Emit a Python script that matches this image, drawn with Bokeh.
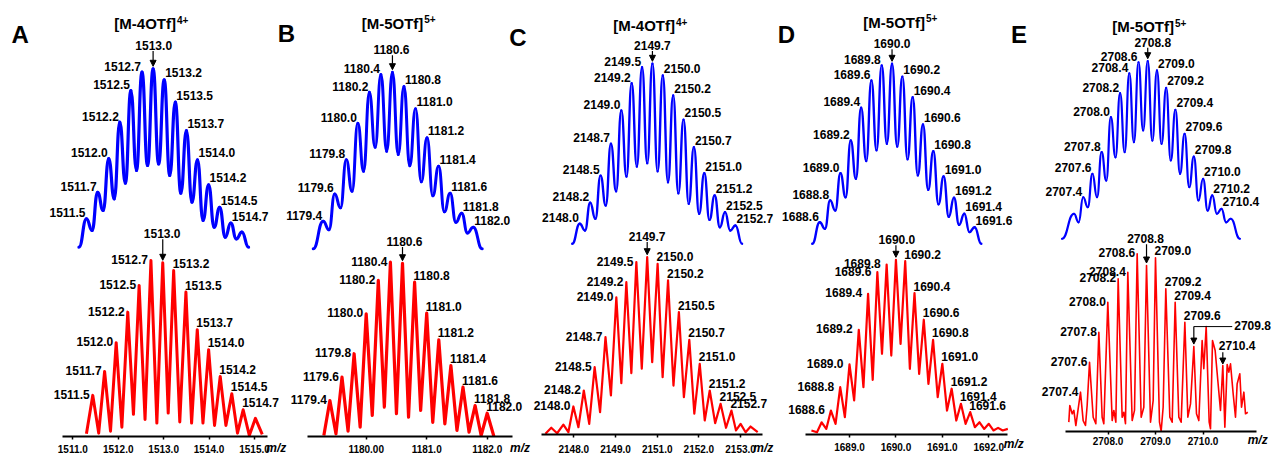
import numpy as np
from bokeh.plotting import figure
from bokeh.models import Range1d, LinearAxis, FixedTicker, Arrow, NormalHead
from bokeh.embed import file_html
from bokeh.resources import INLINE
from bokeh.core.properties import value

# ============================ DATA ============================
# ---- Panel A : [M-4OTf]4+ ----
A_letter = "A"
A_title, A_charge = "[M-4OTf]", "4+"
A_labels = ["1511.5", "1511.7", "1512.0", "1512.2", "1512.5", "1512.7", "1513.0",
            "1513.2", "1513.5", "1513.7", "1514.0", "1514.2", "1514.5", "1514.7"]
A_sim_mz = [1511.33, 1511.5, 1511.625, 1511.75, 1511.875, 1512.0, 1512.125, 1512.25, 1512.375,
            1512.5, 1512.625, 1512.75, 1512.875, 1513.0, 1513.125, 1513.25, 1513.375, 1513.5,
            1513.625, 1513.75, 1513.875, 1514.0, 1514.125, 1514.25, 1514.375, 1514.5, 1514.625,
            1514.75, 1514.875, 1515.0, 1515.15]
A_sim_int = [0, 15.9, 9.4, 30.8, 20.6, 49.6, 27.1, 70.1, 35.9, 87.8, 43.0, 98.1, 45.8, 100,
             46.7, 93.8, 40.2, 81.3, 30.3, 65.4, 25.2, 49.0, 15.0, 35.0, 11.2, 22.4, 5.6, 13.5,
             4.7, 8.4, 0]
A_sim_peaks = [1511.5, 1511.75, 1512.0, 1512.25, 1512.5, 1512.75, 1513.0, 1513.25, 1513.5,
               1513.75, 1514.0, 1514.25, 1514.5, 1514.75]
A_sim_apex = 1513.0
A_exp_mz = [1511.30, 1511.44, 1511.57, 1511.70, 1511.83, 1511.955, 1512.08, 1512.21, 1512.335,
            1512.46, 1512.59, 1512.72, 1512.85, 1512.98, 1513.10, 1513.22, 1513.355, 1513.49,
            1513.615, 1513.74, 1513.865, 1513.99, 1514.12, 1514.245, 1514.37, 1514.50, 1514.625,
            1514.75, 1514.885, 1515.02, 1515.17]
A_exp_int = [1.4, 23.2, 1.7, 36.8, 2.8, 53.2, 5.1, 70.6, 12.4, 85.8, 9.5, 100, 7.4, 98.7, 13.1,
             94.3, 8.0, 82.0, 7.4, 60.6, 7.4, 49.2, 6.1, 34.0, 6.1, 24.1, 1.7, 15.0, 0.4, 10.1, 1.0]
A_exp_peaks = [1511.44, 1511.70, 1511.955, 1512.21, 1512.46, 1512.72, 1512.98, 1513.22, 1513.49,
               1513.74, 1513.99, 1514.245, 1514.50, 1514.75]
A_exp_apex = 1512.98
A_ticks = [1511, 1512, 1513, 1514, 1515]
A_tick_labels = ["1511.0", "1512.0", "1513.0", "1514.0", "1515.0"]

# ---- Panel B : [M-5OTf]5+ ----
B_letter = "B"
B_title, B_charge = "[M-5OTf]", "5+"
B_labels = ["1179.4", "1179.6", "1179.8", "1180.0", "1180.2", "1180.4", "1180.6",
            "1180.8", "1181.0", "1181.2", "1181.4", "1181.6", "1181.8", "1182.0"]
B_sim_mz = [1179.227, 1179.4, 1179.5, 1179.6, 1179.7, 1179.8, 1179.9, 1180.0, 1180.1, 1180.2,
            1180.3, 1180.4, 1180.5, 1180.6, 1180.7, 1180.8, 1180.9, 1181.0, 1181.1, 1181.2,
            1181.3, 1181.4, 1181.5, 1181.6, 1181.7, 1181.8, 1181.9, 1182.0, 1182.156]
B_sim_int = [0, 15.6, 10.8, 31.1, 23.2, 50.4, 32.6, 71.1, 43.9, 88.7, 57.5, 98.7, 55.3, 100,
             53.4, 91.9, 47.0, 79.3, 38.0, 62.9, 30.0, 46.8, 21.0, 31.5, 15.0, 20.2, 9.0, 12.2, 0]
B_sim_peaks = [1179.4, 1179.6, 1179.8, 1180.0, 1180.2, 1180.4, 1180.6, 1180.8, 1181.0, 1181.2,
               1181.4, 1181.6, 1181.8, 1182.0]
B_sim_apex = 1180.6
B_exp_mz = [1179.30, 1179.4, 1179.5, 1179.6, 1179.7, 1179.8, 1179.9, 1180.0, 1180.1, 1180.2,
            1180.3, 1180.4, 1180.5, 1180.6, 1180.7, 1180.8, 1180.9, 1181.0, 1181.1, 1181.2,
            1181.3, 1181.4, 1181.5, 1181.6, 1181.7, 1181.8, 1181.9, 1182.0, 1182.11]
B_exp_int = [0.4, 20.5, 1.4, 33.9, 2.9, 47.4, 5.2, 70.3, 11.9, 89.5, 16.7, 100, 12.9, 99.4, 10.9,
             88.5, 14.8, 70.7, 8.0, 55.4, 7.1, 40.6, 3.3, 28.2, 2.3, 17.6, 0.4, 13.2, 0]
B_exp_peaks = B_sim_peaks
B_exp_apex = 1180.6
B_ticks = [1180, 1181, 1182]
B_tick_labels = ["1180.00", "1181.0", "1182.0"]

# ---- Panel C : [M-4OTf]4+ ----
C_letter = "C"
C_title, C_charge = "[M-4OTf]", "4+"
C_labels = ["2148.0", "2148.2", "2148.5", "2148.7", "2149.0", "2149.2", "2149.5", "2149.7",
            "2150.0", "2150.2", "2150.5", "2150.7", "2151.0", "2151.2", "2152.5", "2152.7"]
C_sim_mz = [2147.817, 2148.0, 2148.125, 2148.25, 2148.375, 2148.5, 2148.625, 2148.75, 2148.875,
            2149.0, 2149.125, 2149.25, 2149.375, 2149.5, 2149.625, 2149.75, 2149.875, 2150.0,
            2150.125, 2150.25, 2150.375, 2150.5, 2150.625, 2150.75, 2150.875, 2151.0, 2151.125,
            2151.25, 2151.375, 2151.5, 2151.625, 2151.75, 2151.91]
C_sim_int = [0, 11.1, 7.4, 22.8, 13.9, 37.9, 21.3, 55.6, 29.2, 74.1, 37.4, 89.2, 42.9, 98.1,
             44.8, 100, 40.3, 93.5, 34.2, 82.4, 28.1, 68.9, 22.2, 53.7, 16.7, 39.2, 13.3, 26.8,
             9.2, 17.6, 7.4, 10.2, 0]
C_sim_peaks = [2148.0, 2148.25, 2148.5, 2148.75, 2149.0, 2149.25, 2149.5, 2149.75, 2150.0,
               2150.25, 2150.5, 2150.75, 2151.0, 2151.25, 2151.5, 2151.75]
C_sim_apex = 2149.75
C_exp_mz = [2147.32, 2147.46, 2147.60, 2147.75, 2147.87, 2147.99, 2148.11, 2148.24, 2148.37,
            2148.50, 2148.63, 2148.76, 2148.89, 2149.02, 2149.14, 2149.26, 2149.38, 2149.50,
            2149.63, 2149.76, 2149.88, 2150.01, 2150.13, 2150.26, 2150.39, 2150.52, 2150.64,
            2150.77, 2150.89, 2151.02, 2151.14, 2151.26, 2151.39, 2151.52, 2151.65, 2151.78,
            2151.89, 2152.00, 2152.12, 2152.24, 2152.41]
C_exp_int = [0.4, 3.8, 0.7, 5.6, 1.3, 15.8, 4.1, 24.8, 6.0, 38.0, 12.6, 54.9, 22.0, 77.4, 28.9,
             85.9, 34.6, 97.2, 37.1, 100, 40.8, 96.3, 32.3, 86.9, 27.6, 69.0, 21.0, 53.4, 11.7,
             39.9, 7.9, 24.8, 6.4, 17.3, 3.8, 13.5, 2.3, 6.0, 1.3, 4.5, 1.3]
C_exp_peaks = [2147.99, 2148.24, 2148.50, 2148.76, 2149.02, 2149.26, 2149.50, 2149.76, 2150.01,
               2150.26, 2150.52, 2150.77, 2151.02, 2151.26, 2151.52, 2151.78]
C_exp_apex = 2149.76
C_ticks = [2148, 2149, 2150, 2151, 2152]
C_tick_labels = ["2148.0", "2149.0", "2151.0", "2152.0", "2153.0"]

# ---- Panel D : [M-5OTf]5+ ----
D_letter = "D"
D_title, D_charge = "[M-5OTf]", "5+"
D_labels = ["1688.6", "1688.8", "1689.0", "1689.2", "1689.4", "1689.6", "1689.8", "1690.0",
            "1690.2", "1690.4", "1690.6", "1690.8", "1691.0", "1691.2", "1691.4", "1691.6"]
D_sim_mz = [1688.453, 1688.6, 1688.7, 1688.8, 1688.9, 1689.0, 1689.1, 1689.2, 1689.3, 1689.4,
            1689.5, 1689.6, 1689.7, 1689.8, 1689.9, 1690.0, 1690.1, 1690.2, 1690.3, 1690.4,
            1690.5, 1690.6, 1690.7, 1690.8, 1690.9, 1691.0, 1691.1, 1691.2, 1691.3, 1691.4,
            1691.5, 1691.6, 1691.73]
D_sim_int = [0, 12.0, 8.3, 24.1, 18.5, 39.2, 25.9, 57.4, 36.1, 75.6, 46.0, 90.7, 52.0, 99.1,
             55.6, 100, 54.0, 92.9, 47.0, 81.4, 38.0, 66.3, 30.0, 51.4, 22.0, 37.4, 15.0, 25.6,
             10.5, 16.7, 6.5, 9.2, 0]
D_sim_peaks = [1688.6, 1688.8, 1689.0, 1689.2, 1689.4, 1689.6, 1689.8, 1690.0, 1690.2, 1690.4,
               1690.6, 1690.8, 1691.0, 1691.2, 1691.4, 1691.6]
D_sim_apex = 1690.0
D_exp_mz = [1688.18, 1688.3, 1688.4, 1688.5, 1688.6, 1688.7, 1688.8, 1688.9, 1689.0, 1689.1,
            1689.2, 1689.3, 1689.4, 1689.5, 1689.6, 1689.7, 1689.8, 1689.9, 1690.0, 1690.1,
            1690.2, 1690.3, 1690.4, 1690.5, 1690.6, 1690.7, 1690.8, 1690.9, 1691.0, 1691.1,
            1691.2, 1691.3, 1691.4, 1691.5, 1691.6, 1691.7, 1691.8, 1691.9, 1692.0, 1692.1,
            1692.2, 1692.3, 1692.41]
D_exp_int = [2.3, 1.3, 7.0, 3.2, 13.7, 6.1, 27.1, 9.9, 40.1, 19.5, 59.9, 27.1, 80.5, 31.3, 92.9,
             46.2, 97.3, 45.2, 100, 51.9, 99.2, 37.6, 80.9, 34.7, 65.7, 29.0, 54.2, 21.4, 40.5,
             13.7, 26.2, 8.0, 17.6, 6.1, 12.8, 4.2, 7.0, 3.2, 6.1, 2.3, 3.8, 2.3, 3.2]
D_exp_peaks = D_sim_peaks
D_exp_apex = 1690.0
D_ticks = [1689, 1690, 1691, 1692]
D_tick_labels = ["1689.0", "1690.0", "1691.0", "1692.0"]

# ---- Panel E : [M-5OTf]5+ ----
E_letter = "E"
E_title, E_charge = "[M-5OTf]", "5+"
E_labels = ["2707.4", "2707.6", "2707.8", "2708.0", "2708.2", "2708.4", "2708.6", "2708.8",
            "2709.0", "2709.2", "2709.4", "2709.6", "2709.8", "2710.0", "2710.2", "2710.4"]
E_sim_mz = [2706.94, 2707.2, 2707.3, 2707.4, 2707.5, 2707.6, 2707.7, 2707.8, 2707.9, 2708.0,
            2708.1, 2708.2, 2708.3, 2708.4, 2708.5, 2708.6, 2708.7, 2708.8, 2708.9, 2709.0,
            2709.1, 2709.2, 2709.3, 2709.4, 2709.5, 2709.6, 2709.7, 2709.8, 2709.9, 2710.0,
            2710.1, 2710.2, 2710.3, 2710.4, 2710.5, 2710.6, 2710.8]
E_sim_int = [0, 14.1, 9.3, 23.4, 17.8, 36.6, 23.4, 48.8, 32.8, 68.5, 45.9, 82.0, 48.8, 93.2,
             54.4, 99.4, 61.0, 100, 55.3, 94.8, 53.5, 85.0, 44.1, 72.6, 36.6, 59.1, 29.1, 46.3,
             21.6, 33.8, 15.9, 24.4, 14.1, 16.9, 9.3, 11.3, 0]
E_sim_peaks = [2707.4, 2707.6, 2707.8, 2708.0, 2708.2, 2708.4, 2708.6, 2708.8, 2709.0, 2709.2,
               2709.4, 2709.6, 2709.8, 2710.0, 2710.2, 2710.4]
E_sim_apex = 2708.8
E_exp_mz = [2707.175, 2707.196, 2707.246, 2707.281, 2707.323, 2707.421, 2707.477, 2707.526,
            2707.561, 2707.611, 2707.688, 2707.744, 2707.807, 2707.877, 2707.912, 2707.996,
            2708.088, 2708.123, 2708.165, 2708.214, 2708.298, 2708.333, 2708.368, 2708.417,
            2708.509, 2708.558, 2708.614, 2708.698, 2708.754, 2708.811, 2708.895, 2708.951,
            2709.0, 2709.084, 2709.119, 2709.161, 2709.217, 2709.302, 2709.351, 2709.414,
            2709.491, 2709.54, 2709.618, 2709.681, 2709.737, 2709.807, 2709.863, 2709.912,
            2709.982, 2710.017, 2710.067, 2710.13, 2710.158, 2710.2, 2710.256, 2710.312,
            2710.368, 2710.417, 2710.46, 2710.509, 2710.544, 2710.579, 2710.635, 2710.684,
            2710.719, 2710.775, 2710.811, 2710.86, 2710.895, 2710.944]
E_exp_int = [5.1, 14.5, 9.8, 11.7, 3.2, 22.0, 6.0, 3.2, 14.5, 38.9, 7.9, 4.2, 55.8, 7.9, 4.2,
             72.7, 6.0, 11.7, 5.1, 85.9, 7.9, 10.7, 4.2, 89.6, 6.0, 11.7, 100, 7.9, 13.5, 93.4,
             5.1, 17.3, 97.7, 5.1, 0, 13.5, 80.3, 7.9, 5.1, 72.7, 7.9, 5.1, 61.4, 7.9, 15.4,
             47.7, 9.8, 6.0, 51.1, 35.2, 59.0, 5.1, 1.4, 51.1, 45.5, 28.6, 11.7, 37.0, 2.3, 37.6,
             33.3, 38.0, 21.1, 7.9, 26.7, 32.4, 13.5, 22.0, 9.8, 10.7]
E_exp_peaks = [2707.421, 2707.611, 2707.807, 2707.996, 2708.214, 2708.417, 2708.614, 2708.811,
               2709.0, 2709.217, 2709.414, 2709.618]
E_exp_labels = ["2707.4", "2707.6", "2707.8", "2708.0", "2708.2", "2708.4", "2708.6", "2708.8",
                "2709.0", "2709.2", "2709.4", "2709.6"]
E_exp_apex = 2708.811
E_callout_peaks = [2709.807, 2710.417]
E_callout_labels = ["2709.8", "2710.4"]
E_ticks = [2708, 2709, 2710]
E_tick_labels = ["2708.0", "2709.0", "2710.0"]

# ============================ LAYOUT ============================
# Bokeh's standalone page has no body margin, so canvas pixels == window pixels.
W, H = 1272, 455
OX, OY = 0, 0
FONT = "Liberation Sans"
BLUE, RED, INK = "#0000ff", "#ff0000", "#000000"
LABEL_SIZE = "12px"
OFF = dict(sim_left=(-1, -6), sim_right=(1, -7), exp_left=(-3, -1), exp_right=(-1, -7))

PANELS = [
    dict(key="A", letter=A_letter, title=A_title, charge=A_charge,
         sim=(A_sim_mz, A_sim_int, A_sim_peaks, A_labels, A_sim_apex),
         exp=(A_exp_mz, A_exp_int, A_exp_peaks, A_labels, A_exp_apex),
         ticks=(A_ticks, A_tick_labels),
         sim_x=(1511.5, 86.0, 44.4), sim_y=(246.7, 68.3),
         exp_x=(1511.0, 72.3, 45.43), exp_y=(435.6, 260.0),
         bounds=(1510.77, 1515.28), letter_xy=(19.7, 34.0), title_xy=(175.5, 23.0),
         sim_c=(0.6, -23.3), exp_c=(-0.6, -29.0), mz_off=(-1, 12), standoff=6,
         exp_left=(-3, -1), sim_lw=3.2, exp_lw=3.0),
    dict(key="B", letter=B_letter, title=B_title, charge=B_charge,
         sim=(B_sim_mz, B_sim_int, B_sim_peaks, B_labels, B_sim_apex),
         exp=(B_exp_mz, B_exp_int, B_exp_peaks, B_labels, B_exp_apex),
         ticks=(B_ticks, B_tick_labels),
         sim_x=(1179.4, 322.7, 57.7), sim_y=(248.3, 71.7),
         exp_x=(1180.0, 365.7, 60.5), exp_y=(435.7, 261.7),
         bounds=(1179.03, 1182.41), letter_xy=(285.8, 33.3), title_xy=(422.8, 22.5),
         sim_c=(-1, -22.4), exp_c=(2, -21.7), mz_off=(-2, 12), standoff=6,
         exp_left=(-3, -1), sim_lw=3.0, exp_lw=3.2),
    dict(key="C", letter=C_letter, title=C_title, charge=C_charge,
         sim=(C_sim_mz, C_sim_int, C_sim_peaks, C_labels, C_sim_apex),
         exp=(C_exp_mz, C_exp_int, C_exp_peaks, C_labels, C_exp_apex),
         ticks=(C_ticks, C_tick_labels),
         sim_x=(2148.0, 579.3, 41.5), sim_y=(243.3, 63.3),
         exp_x=(2148.0, 573.3, 41.7), exp_y=(434.0, 256.7),
         bounds=(2147.22, 2152.52), letter_xy=(517.5, 36.7), title_xy=(674.5, 25.0),
         sim_c=(0, -18.3), exp_c=(0, -20.7), mz_off=(-9, 13), standoff=7,
         exp_left=(-3, -1), sim_lw=2.4, exp_lw=2.2),
    dict(key="D", letter=D_letter, title=D_title, charge=D_charge,
         sim=(D_sim_mz, D_sim_int, D_sim_peaks, D_labels, D_sim_apex),
         exp=(D_exp_mz, D_exp_int, D_exp_peaks, D_labels, D_exp_apex),
         ticks=(D_ticks, D_tick_labels),
         sim_x=(1688.6, 819.3, 51.6), sim_y=(243.3, 63.3),
         exp_x=(1689.0, 849.0, 46.43), exp_y=(434.0, 259.3),
         bounds=(1688.05, 1692.41), letter_xy=(785.8, 34.3), title_xy=(924.5, 21.5),
         sim_c=(0, -20.0), exp_c=(1, -20.0), mz_off=(-4, 9), standoff=5,
         exp_left=(-6, -1), sim_lw=2.4, exp_lw=2.2),
    dict(key="E", letter=E_letter, title=E_title, charge=E_charge,
         sim=(E_sim_mz, E_sim_int, E_sim_peaks, E_labels, E_sim_apex),
         exp=(E_exp_mz, E_exp_int, E_exp_peaks, E_exp_labels, E_exp_apex),
         ticks=(E_ticks, E_tick_labels),
         sim_x=(2707.4, 1082.7, 46.1), sim_y=(238.3, 60.7),
         exp_x=(2708.0, 1107.5, 47.5), exp_y=(430.7, 253.3),
         bounds=(2707.105, 2711.13), letter_xy=(1018.5, 33.8), title_xy=(1173.5, 26.0),
         sim_c=(5, -19.0), exp_c=(-1, -26.7), mz_off=(-9, 9), standoff=3,
         exp_left=(-2, -1), sim_lw=2.2, exp_lw=1.6),
]

# ============================ FIGURE ============================
p = figure(width=W, height=H, output_backend="svg", toolbar_location=None,
           x_range=Range1d(OX, OX + W), y_range=Range1d(OY + H, OY),
           x_axis_location=None, y_axis_location=None, min_border=0)
p.outline_line_color = None
p.background_fill_color = "white"
p.border_fill_color = "white"
p.grid.visible = False


def x_rng(m_ref, px_ref, ppu):
    s = m_ref - (px_ref - OX) / ppu
    return Range1d(s, s + W / ppu)


def y_rng(px_base, px_top):
    k = (px_base - px_top) / 100.0
    s = -(OY + H - px_base) / k
    return Range1d(s, s + H / k)


def txt(**kw):
    base = dict(text_font=value(FONT), text_font_style="bold", text_color=INK,
                text_baseline="middle")
    base.update(kw)
    return base


def smooth_curve(xs, ys, rn, color, lw):
    xs = np.asarray(xs, float)
    ys = np.asarray(ys, float)
    x0, x1, y0, y1 = xs[:-1], xs[1:], ys[:-1], ys[1:]
    cx = (x0 + x1) / 2.0
    p.bezier(x0=x0, y0=y0, x1=x1, y1=y1, cx0=cx, cy0=y0, cx1=cx, cy1=y1,
             line_color=color, line_width=lw, line_cap="round",
             x_range_name=rn, y_range_name=rn)


def peak_labels(rn, series, kpx, left, right, center):
    mz, inten, peaks, labels, apex = series
    look = dict(zip(mz, inten))
    groups = {"right": ([], [], [], left), "left": ([], [], [], right),
              "center": ([], [], [], center)}
    for m, t in zip(peaks, labels):
        g = "right" if m < apex else ("left" if m > apex else "center")
        groups[g][0].append(m)
        groups[g][1].append(look[m])
        groups[g][2].append(t)
    for align, (xs, ys, ts, off) in groups.items():
        if xs:
            p.text(x=xs, y=ys, text=ts, x_range_name=rn, y_range_name=rn,
                   x_offset=off[0], y_offset=off[1],
                   **txt(text_align=align, text_font_size=LABEL_SIZE))
    ha = look[apex]
    p.add_layout(Arrow(end=NormalHead(size=6, fill_color=INK, line_color=INK, line_width=1),
                       x_start=apex, y_start=ha + (-center[1] - 5.5) / kpx,
                       x_end=apex, y_end=ha + 2.5 / kpx,
                       line_color=INK, line_width=1.2, x_range_name=rn, y_range_name=rn))


for P in PANELS:
    k = P["key"]
    rs, re = k + "_sim", k + "_exp"
    p.extra_x_ranges[rs] = x_rng(*P["sim_x"])
    p.extra_y_ranges[rs] = y_rng(*P["sim_y"])
    p.extra_x_ranges[re] = x_rng(*P["exp_x"])
    p.extra_y_ranges[re] = y_rng(*P["exp_y"])
    k_sim = (P["sim_y"][0] - P["sim_y"][1]) / 100.0
    k_exp = (P["exp_y"][0] - P["exp_y"][1]) / 100.0

    # simulated (blue) pattern
    smooth_curve(P["sim"][0], P["sim"][1], rs, BLUE, P["sim_lw"])
    # experimental (red) spectrum
    p.line(P["exp"][0], P["exp"][1], x_range_name=re, y_range_name=re,
           line_color=RED, line_width=P["exp_lw"], line_join="round")

    peak_labels(rs, P["sim"], k_sim, OFF["sim_left"], OFF["sim_right"], P["sim_c"])
    peak_labels(re, P["exp"], k_exp, P["exp_left"], OFF["exp_right"], P["exp_c"])

    # m/z axis
    ticks, tlabels = P["ticks"]
    ax = LinearAxis(x_range_name=re, y_range_name=re, fixed_location=0, bounds=P["bounds"],
                    ticker=FixedTicker(ticks=ticks),
                    major_label_overrides={t: s for t, s in zip(ticks, tlabels)})
    ax.axis_line_color = INK
    ax.axis_line_width = 2.2
    ax.major_tick_line_color = INK
    ax.major_tick_line_width = 1.5
    ax.major_tick_out = 3
    ax.major_tick_in = 0
    ax.minor_tick_line_color = None
    ax.major_label_text_font = FONT
    ax.major_label_text_font_style = "bold"
    ax.major_label_text_font_size = "10px"
    ax.major_label_text_color = INK
    ax.major_label_standoff = P["standoff"]
    p.add_layout(ax, "below")
    p.text(x=[P["bounds"][1]], y=[0], text=["m/z"], x_range_name=re, y_range_name=re,
           x_offset=P["mz_off"][0], y_offset=P["mz_off"][1],
           **txt(text_align="left", text_font_size="12px", text_font_style="bold italic"))

    # panel letter and title
    lx, ly = P["letter_xy"]
    p.text(x=[lx], y=[ly], text=[P["letter"]], **txt(text_align="center", text_font_size="24px"))
    tx, ty = P["title_xy"]
    p.text(x=[tx], y=[ty], text=[P["title"]], **txt(text_align="right", text_font_size="15px"))
    p.text(x=[tx + 1], y=[ty - 4], text=[P["charge"]], **txt(text_align="left", text_font_size="10px"))

# special call-outs in panel E (experimental)
E = PANELS[4]
kE = (E["exp_y"][0] - E["exp_y"][1]) / 100.0
lookE = dict(zip(E_exp_mz, E_exp_int))
m1, m2 = E_callout_peaks
h1, h2 = lookE[m1], lookE[m2]
bar_y = h1 + 20.0 / kE
bar_x2 = m1 + 38.4 / E["exp_x"][2]
p.segment(x0=[m1], y0=[bar_y], x1=[bar_x2], y1=[bar_y], x_range_name="E_exp", y_range_name="E_exp",
          line_color=INK, line_width=1)
p.add_layout(Arrow(end=NormalHead(size=6, fill_color=INK, line_color=INK, line_width=1),
                   x_start=m1, y_start=bar_y, x_end=m1, y_end=h1 + 2.5 / kE,
                   line_color=INK, line_width=1.2, x_range_name="E_exp", y_range_name="E_exp"))
p.text(x=[bar_x2], y=[bar_y], text=[E_callout_labels[0]], x_range_name="E_exp", y_range_name="E_exp",
       x_offset=2, y_offset=-1, **txt(text_align="left", text_font_size=LABEL_SIZE))
top2 = h2 + 13.3 / kE
p.add_layout(Arrow(end=NormalHead(size=6, fill_color=INK, line_color=INK, line_width=1),
                   x_start=m2, y_start=top2, x_end=m2, y_end=h2 + 1.5 / kE,
                   line_color=INK, line_width=1.2, x_range_name="E_exp", y_range_name="E_exp"))
p.text(x=[m2], y=[top2], text=[E_callout_labels[1]], x_range_name="E_exp", y_range_name="E_exp",
       x_offset=-4, y_offset=-7, **txt(text_align="left", text_font_size=LABEL_SIZE))

open("out.html", "w").write(file_html(p, INLINE))
